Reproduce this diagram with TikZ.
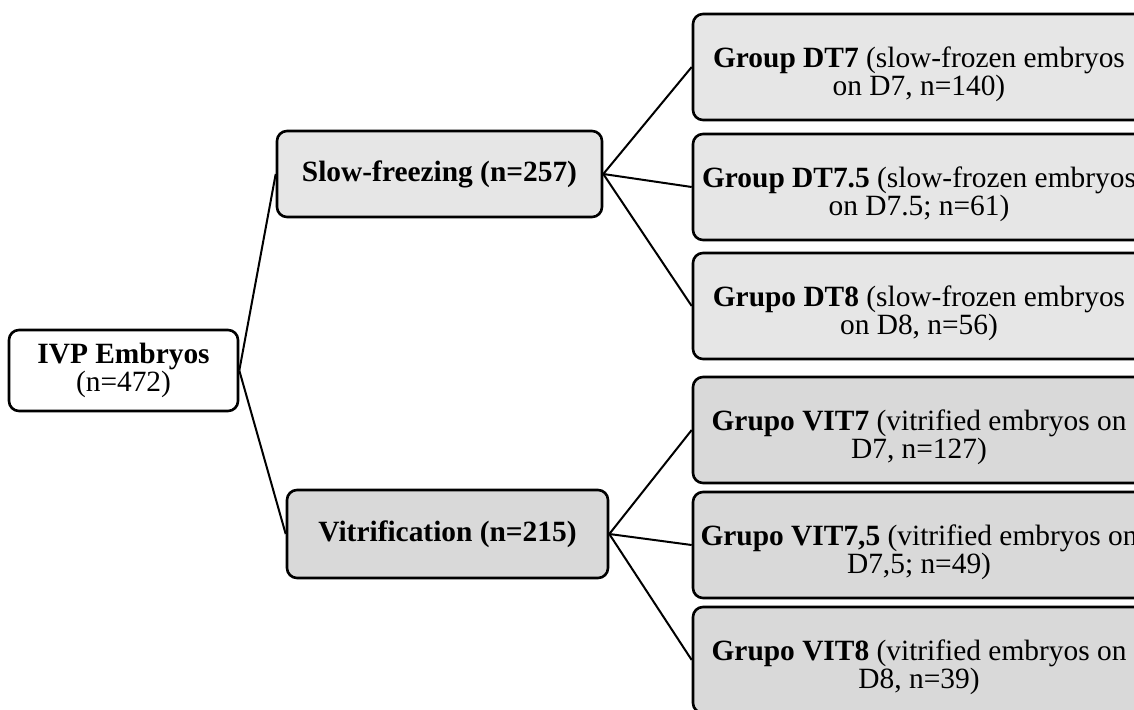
\documentclass[tikz,border=0pt]{standalone}
\usepackage{fontspec}
\setmainfont{Liberation Serif}
\definecolor{slowfill}{HTML}{E6E6E6}
\definecolor{vitfill}{HTML}{D9D9D9}
\begin{document}
\begin{tikzpicture}[x=1pt,y=-1pt,
  txt/.style={align=center, inner sep=0pt, font=\fontsize{29.4}{26}\selectfont},
  box/.style={draw, line width=2.6pt, rounded corners=10pt, txt},
  groupbox/.style={box, minimum width=452pt, minimum height=106pt},
  grouptext/.style={txt, yshift=-7pt},
  conn/.style={line width=2pt}]
\useasboundingbox (0,0) rectangle (1134,709);
\clip (0,0) rectangle (1134,709);
\node[box, fill=white, minimum width=229pt, minimum height=81pt] (ivp) at (123.5,370.5)
  {\textbf{IVP Embryos}\\(n=472)};
\node[box, fill=slowfill, minimum width=325pt, minimum height=86pt] (slow) at (439.5,174)
  {\textbf{Slow-freezing (n=257)}};
\node[box, fill=vitfill, minimum width=321pt, minimum height=88pt] (vit) at (447.5,534)
  {\textbf{Vitrification (n=215)}};
\node[groupbox, fill=slowfill] (dt7) at (919,67) {};
\node[grouptext] (dt7t) at (dt7.center)
  {\textbf{Group DT7} (slow-frozen embryos\\on D7, n=140)};
\node[groupbox, fill=slowfill] (dt75) at (919,187) {};
\node[grouptext] (dt75t) at (dt75.center)
  {\textbf{Group DT7.5} (slow-frozen embryos\\on D7.5; n=61)};
\node[groupbox, fill=slowfill] (dt8) at (919,306) {};
\node[grouptext] (dt8t) at (dt8.center)
  {\textbf{Grupo DT8} (slow-frozen embryos\\on D8, n=56)};
\node[groupbox, fill=vitfill] (vit7) at (919,430) {};
\node[grouptext] (vit7t) at (vit7.center)
  {\textbf{Grupo VIT7} (vitrified embryos on\\D7, n=127)};
\node[groupbox, fill=vitfill] (vit75) at (919,545) {};
\node[grouptext] (vit75t) at (vit75.center)
  {\textbf{Grupo VIT7,5} (vitrified embryos on\\D7,5; n=49)};
\node[groupbox, fill=vitfill] (vit8) at (919,660) {};
\node[grouptext] (vit8t) at (vit8.center)
  {\textbf{Grupo VIT8} (vitrified embryos on\\D8, n=39)};
\draw[conn] (ivp.east) -- (slow.west);
\draw[conn] (ivp.east) -- (vit.west);
\draw[conn] (slow.east) -- (dt7.west);
\draw[conn] (slow.east) -- (dt75.west);
\draw[conn] (slow.east) -- (dt8.west);
\draw[conn] (vit.east) -- (vit7.west);
\draw[conn] (vit.east) -- (vit75.west);
\draw[conn] (vit.east) -- (vit8.west);
\end{tikzpicture}
\end{document}
